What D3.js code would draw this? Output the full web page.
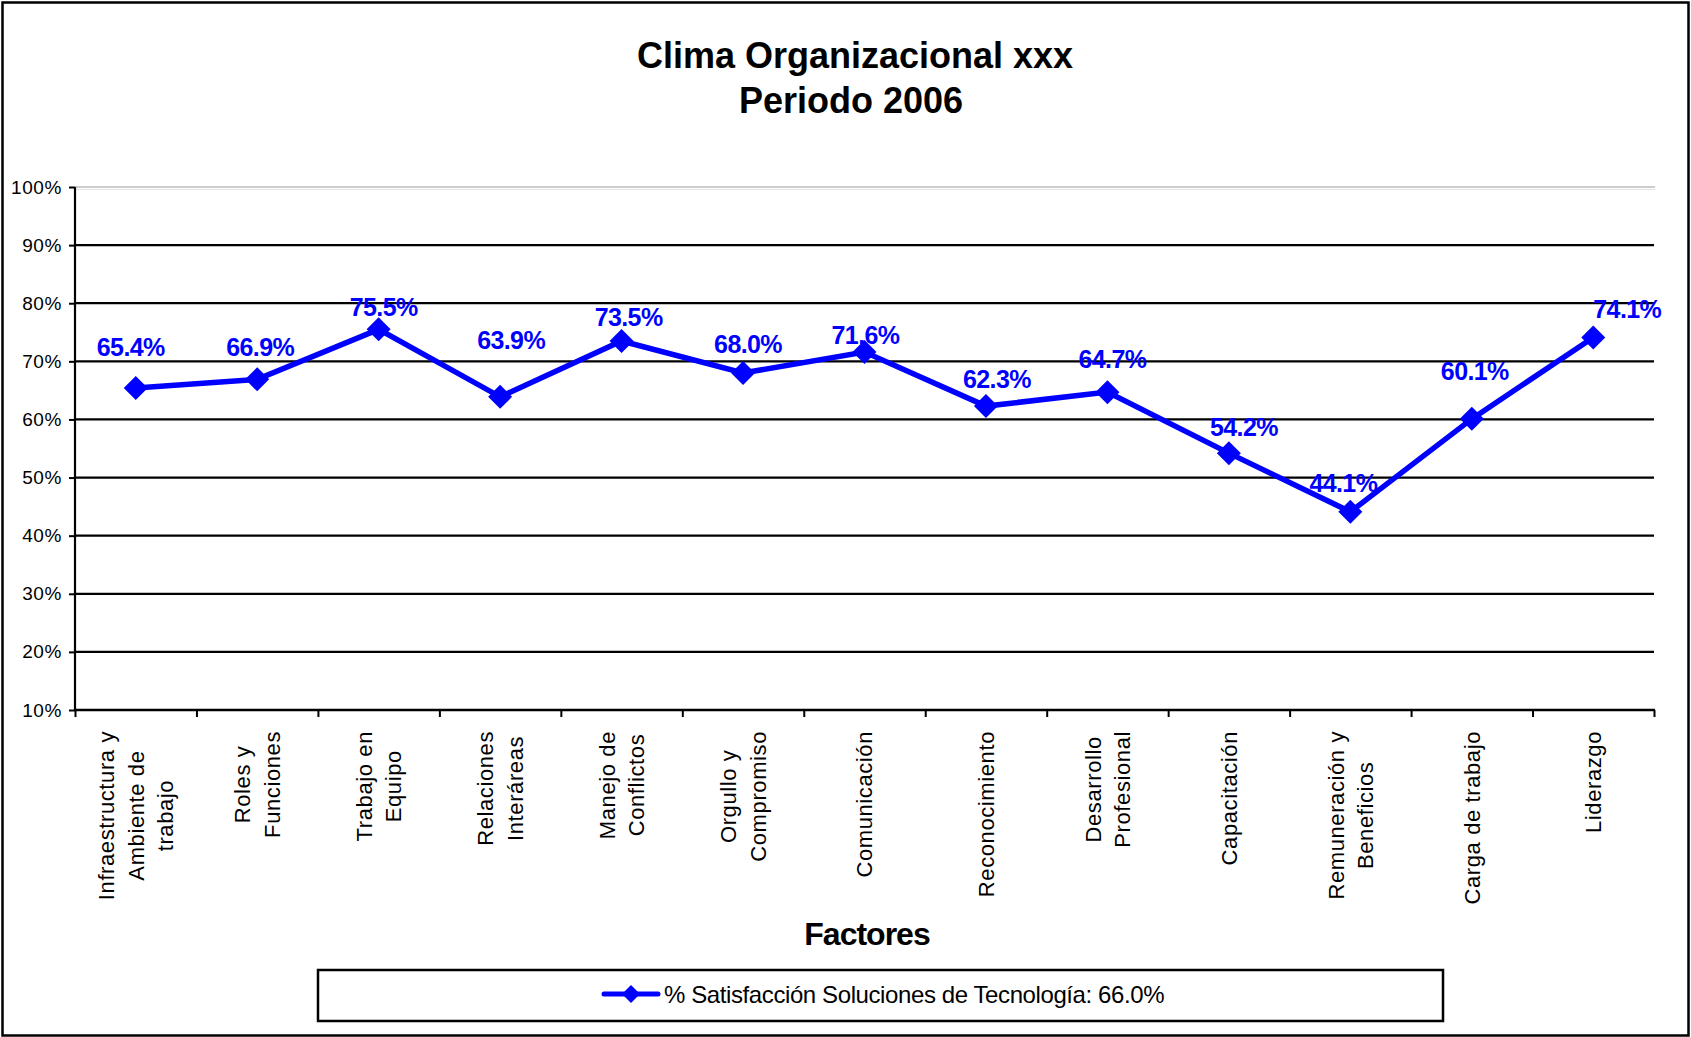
<!DOCTYPE html>
<html>
<head>
<meta charset="utf-8">
<script src="https://cdn.jsdelivr.net/npm/d3@7"></script>
<style>
  body { margin: 0; background: #fff; }
  svg { display: block; }
  text { font-family: "Liberation Sans", Arial, Helvetica, sans-serif; }
</style>
</head>
<body>
<svg id="chart" width="1691" height="1037"></svg>
<script>
// ---- data ----
const categories = [
  ["Infraestructura y", "Ambiente de", "trabajo"],
  ["Roles y", "Funciones"],
  ["Trabajo en", "Equipo"],
  ["Relaciones", "Interáreas"],
  ["Manejo de", "Conflictos"],
  ["Orgullo y", "Compromiso"],
  ["Comunicación"],
  ["Reconocimiento"],
  ["Desarrollo", "Profesional"],
  ["Capacitación"],
  ["Remuneración y", "Beneficios"],
  ["Carga de trabajo"],
  ["Liderazgo"]
];
const values = [65.4, 66.9, 75.5, 63.9, 73.5, 68.0, 71.6, 62.3, 64.7, 54.2, 44.1, 60.1, 74.1];
const yTicks = [10, 20, 30, 40, 50, 60, 70, 80, 90, 100];
const titleLines = ["Clima Organizacional xxx", "Periodo 2006"];
const xTitle = "Factores";
const seriesName = "% Satisfacción Soluciones de Tecnología: 66.0%";

// ---- layout ----
const W = 1691, H = 1037;
const plot = { left: 75, right: 1654, top: 187, bottom: 710 };
const blue = "#0000ff";
// per-label nudges (dx, dy) from each point to its value label
const labelNudge = [[-5,-32],[3,-23],[5,-13],[11,-48],[7,-15],[5,-20],[1,-8],[11,-18],[5,-24],[15,-17],[-7,-20],[3,-39],[34,-20]];

const svg = d3.select("#chart");

// outer frame
svg.append("rect")
  .attr("x", 2.5).attr("y", 2.5)
  .attr("width", W - 5).attr("height", H - 4)
  .attr("fill", "#fff").attr("stroke", "#000").attr("stroke-width", 2.5);

// title
const title = svg.append("g").attr("font-weight", "bold").attr("font-size", 36)
  .attr("text-anchor", "middle").attr("fill", "#000");
title.append("text").attr("x", 855).attr("y", 68).text(titleLines[0]);
title.append("text").attr("x", 851).attr("y", 113).text(titleLines[1]);

// scales
const x = d3.scaleBand().domain(d3.range(categories.length)).range([plot.left, plot.right]).padding(0);
const xb = d3.scaleLinear().domain([0, categories.length]).range([plot.left, plot.right]);
const y = d3.scaleLinear().domain([10, 100]).range([plot.bottom, plot.top]);
const cx = i => x(i) + x.bandwidth() / 2;

// gridlines
svg.append("g").selectAll("line")
  .data(yTicks.filter(t => t > 10))
  .join("line")
  .attr("x1", plot.left).attr("x2", d => d === 100 ? plot.right + 1 : plot.right)
  .attr("y1", d => y(d)).attr("y2", d => y(d))
  .attr("stroke", d => d === 100 ? "#bdbdbd" : "#000")
  .attr("stroke-width", d => d === 100 ? 1.5 : 2.2);
svg.append("line")
  .attr("x1", plot.left).attr("x2", plot.right + 1)
  .attr("y1", y(100) + 2.5).attr("y2", y(100) + 2.5)
  .attr("stroke", "#e2e2e2").attr("stroke-width", 1);

// y axis
const yAxis = svg.append("g")
  .attr("transform", `translate(${plot.left},0)`)
  .call(d3.axisLeft(y).tickValues(yTicks).tickFormat(d => d + "%").tickSize(6).tickPadding(7));
yAxis.select(".domain").attr("stroke", "#000").attr("stroke-width", 2.2).attr("d", `M0,${plot.top}V${plot.bottom}`);
yAxis.selectAll(".tick line").attr("stroke", "#000").attr("stroke-width", 2);
yAxis.selectAll(".tick text").attr("font-size", 19).attr("fill", "#000")
  .attr("font-family", "'Liberation Sans', Arial, sans-serif").attr("letter-spacing", 0.6);

// x axis (ticks on category boundaries)
const xAxis = svg.append("g")
  .attr("transform", `translate(0,${plot.bottom})`)
  .call(d3.axisBottom(xb).tickValues(d3.range(categories.length + 1)).tickFormat("").tickSize(7));
xAxis.select(".domain").attr("stroke", "#000").attr("stroke-width", 2.5).attr("d", `M${plot.left},0H${plot.right + 1}`);
xAxis.selectAll(".tick line").attr("stroke", "#000").attr("stroke-width", 2);

// category labels, rotated, lines centred within each block
const labelTop = 731, lineH = 29.5;
const xl = svg.append("g").attr("font-size", 22).attr("fill", "#000").attr("letter-spacing", 0.6);
categories.forEach((lines, i) => {
  const g = xl.append("g").attr("transform", `translate(${cx(i)},${labelTop}) rotate(-90)`);
  const texts = lines.map(s => g.append("text").text(s));
  const maxLen = d3.max(texts, t => t.node().getComputedTextLength());
  texts.forEach((t, j) => t
    .attr("text-anchor", "middle")
    .attr("x", -maxLen / 2)
    .attr("y", (j - (lines.length - 1) / 2) * lineH)
    .attr("dy", "0.36em"));
});

// x axis title
svg.append("text")
  .attr("x", 867).attr("y", 945)
  .attr("text-anchor", "middle").attr("font-weight", "bold")
  .attr("font-size", 32).attr("letter-spacing", -1)
  .text(xTitle);

// series line
const line = d3.line().x((d, i) => cx(i)).y(d => y(d));
svg.append("path")
  .datum(values)
  .attr("d", line)
  .attr("fill", "none").attr("stroke", blue).attr("stroke-width", 5.5)
  .attr("stroke-linejoin", "miter");

// diamond markers
const diamond = r => `M0,${-r}L${r},0L0,${r}L${-r},0Z`;
svg.append("g").selectAll("path")
  .data(values)
  .join("path")
  .attr("transform", (d, i) => `translate(${cx(i)},${y(d)})`)
  .attr("d", diamond(12))
  .attr("fill", blue);

// value labels
svg.append("g").selectAll("text")
  .data(values)
  .join("text")
  .attr("x", (d, i) => cx(i) + labelNudge[i][0])
  .attr("y", (d, i) => y(d) + labelNudge[i][1])
  .attr("text-anchor", "middle")
  .attr("font-weight", "bold").attr("font-size", 25).attr("letter-spacing", -0.6)
  .attr("fill", blue)
  .text(d => d.toFixed(1) + "%");

// legend
const lg = svg.append("g");
lg.append("rect")
  .attr("x", 318).attr("y", 970).attr("width", 1125).attr("height", 51)
  .attr("fill", "#fff").attr("stroke", "#000").attr("stroke-width", 2.5);
lg.append("line")
  .attr("x1", 604).attr("x2", 658).attr("y1", 994).attr("y2", 994)
  .attr("stroke", blue).attr("stroke-width", 5).attr("stroke-linecap", "round");
lg.append("path")
  .attr("transform", "translate(631,994)")
  .attr("d", diamond(9)).attr("fill", blue);
lg.append("text")
  .attr("x", 664).attr("y", 1003)
  .attr("font-size", 24).attr("letter-spacing", -0.4).attr("fill", "#000")
  .text(seriesName);
</script>
</body>
</html>
